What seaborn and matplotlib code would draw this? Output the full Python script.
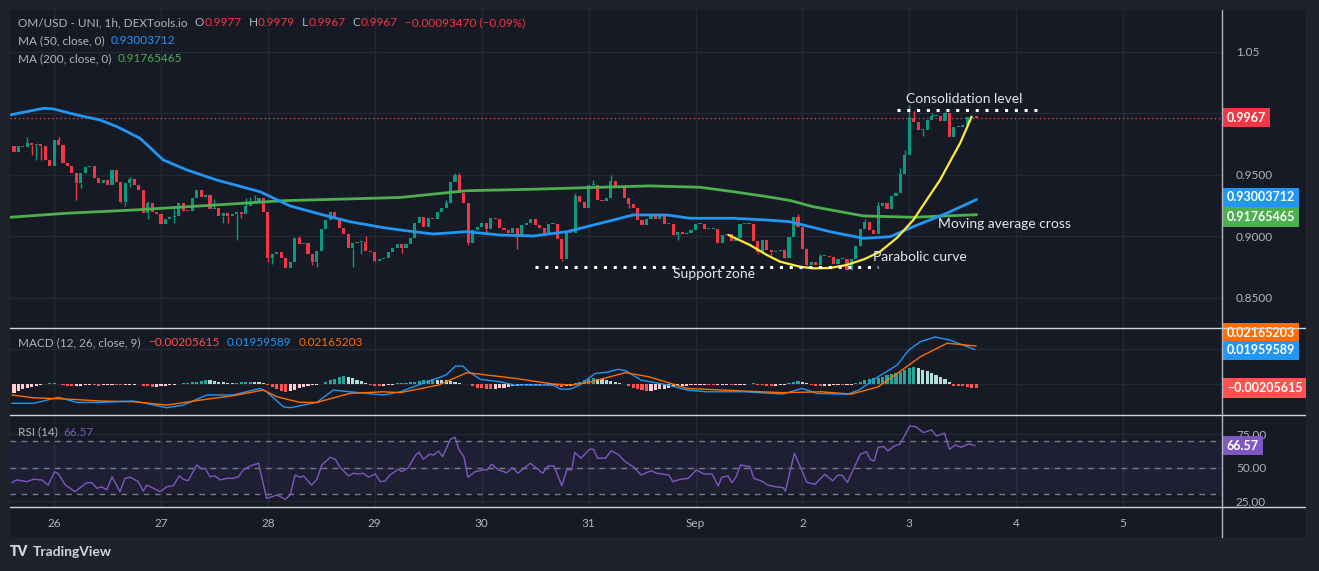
import matplotlib
matplotlib.use("Agg")
import matplotlib.pyplot as plt
import seaborn as sns
import numpy as np
from matplotlib.patches import Rectangle
from matplotlib.lines import Line2D

# ---- DATA ----
# hourly candles, first one = Aug 25 15:00; x axis is hours from Aug 26 00:00
start_hour = -9
first_open = 0.9736
closes = [
    0.9687, 0.9736, 0.9730, 0.9760, 0.9740, 0.9755, 0.9735, 0.9622, 0.9570, 0.9785,
    0.9744, 0.9598, 0.9570, 0.9516, 0.9435, 0.9520, 0.9565, 0.9570, 0.9476, 0.9435,
    0.9460, 0.9420, 0.9540, 0.9440, 0.9280, 0.9437, 0.9470, 0.9420, 0.9380, 0.9190,
    0.9275, 0.9200, 0.9185, 0.9100, 0.9140, 0.9160, 0.9170, 0.9270, 0.9210, 0.9205,
    0.9310, 0.9380, 0.9320, 0.9340, 0.9220, 0.9235, 0.9170, 0.9190, 0.9165, 0.9185,
    0.9200, 0.9185, 0.9250, 0.9280, 0.9290, 0.9310, 0.9200, 0.8825, 0.8855, 0.8870,
    0.8825, 0.8745, 0.8790, 0.8985, 0.8940, 0.8950, 0.8860, 0.8790, 0.8880, 0.9060,
    0.9130, 0.9200, 0.9150, 0.9070, 0.9020, 0.8910, 0.8950, 0.8955, 0.8955, 0.8880,
    0.8875, 0.8800, 0.8820, 0.8825, 0.8870, 0.8910, 0.8940, 0.8910, 0.8940, 0.8990,
    0.9110, 0.9160, 0.9080, 0.9150, 0.9140, 0.9200, 0.9230, 0.9270, 0.9445, 0.9500,
    0.9356, 0.9273, 0.8950, 0.9050, 0.9080, 0.9110, 0.9060, 0.9150, 0.9140, 0.9070,
    0.9050, 0.9030, 0.9070, 0.9010, 0.9090, 0.9110, 0.9140, 0.9090, 0.9070, 0.9020,
    0.9100, 0.9105, 0.8980, 0.8815, 0.9030, 0.9030, 0.9325, 0.9280, 0.9235, 0.9420,
    0.9420, 0.9300, 0.9290, 0.9310, 0.9450, 0.9400, 0.9390, 0.9313, 0.9260, 0.9235,
    0.9130, 0.9090, 0.9140, 0.9170, 0.9140, 0.9170, 0.9100, 0.9100, 0.9010, 0.9040,
    0.9020, 0.9030, 0.9050, 0.9100, 0.9100, 0.9060, 0.9060, 0.9060, 0.8950, 0.9010,
    0.9020, 0.8960, 0.8990, 0.9100, 0.9100, 0.9100, 0.8960, 0.8877, 0.8970, 0.8890,
    0.8870, 0.8880, 0.8890, 0.8825, 0.8995, 0.9160, 0.9080, 0.8900, 0.8770, 0.8790,
    0.8770, 0.8840, 0.8840, 0.8830, 0.8780, 0.8820, 0.8820, 0.8730, 0.8817, 0.8920,
    0.9060, 0.9120, 0.9050, 0.9020, 0.9250, 0.9270, 0.9220, 0.9325, 0.9350, 0.9510,
    0.9660, 0.9965, 0.9930, 0.9866, 0.9866, 0.9950, 0.9980, 0.9980, 0.9940, 1.0000,
    0.9810, 0.9890, 0.9890, 0.9910, 0.9970, 0.9977, 0.9967,
]
# visible wicks only (candle index -> high / low)
wick_hi = {3: 0.9811, 10: 0.9811, 26: 0.9486, 30: 0.9290, 36: 0.9230, 45: 0.9305,
           52: 0.9310, 53: 0.9320, 54: 0.9340, 64: 0.9004, 79: 0.9000, 97: 0.9300,
           99: 0.9519, 100: 0.9519, 126: 0.9351, 130: 0.9460, 134: 0.9500, 145: 0.9180,
           176: 0.9180, 181: 0.8860, 191: 0.9140, 194: 0.9280, 199: 0.9560, 200: 0.9700,
           201: 1.0069, 202: 1.0023, 206: 1.0000, 209: 1.0010}
wick_lo = {4: 0.9660, 5: 0.9620, 6: 0.9620, 14: 0.9297, 15: 0.9397, 24: 0.9275,
           25: 0.9248, 26: 0.9405, 30: 0.9140, 36: 0.9109, 47: 0.9107, 48: 0.9110,
           50: 0.8972, 51: 0.9150, 57: 0.8795, 58: 0.8776, 67: 0.8770, 68: 0.8754,
           75: 0.8909, 76: 0.8754, 78: 0.8858, 81: 0.8790, 87: 0.8868, 102: 0.8930,
           106: 0.9030, 113: 0.8898, 123: 0.8800, 138: 0.9230, 149: 0.8970, 167: 0.8860,
           170: 0.8850, 178: 0.8763, 187: 0.8732, 204: 0.9820}

ma50_t = [-9.9, -2.4, -0.2, 5.1, 10.3, 14.1, 19.3, 24.5, 29.8, 36.5, 46.2, 53.0, 60.4,
          66.4, 73.9, 77.7, 85.1, 92.6, 100.1, 107.6, 115.1, 122.6, 130.0, 137.5, 142.8,
          152.5, 160.0, 165.2, 174.2, 181.7, 187.7, 192.9, 200.4, 207.1]
ma50_v = [0.9988, 1.0042, 1.0037, 0.9988, 0.9947, 0.9893, 0.9798, 0.9622, 0.9541, 0.9459,
          0.9364, 0.9248, 0.9175, 0.9120, 0.9072, 0.9053, 0.9020, 0.9039, 0.9012, 0.9004,
          0.9039, 0.9107, 0.9175, 0.9175, 0.9148, 0.9148, 0.9134, 0.9120, 0.9039, 0.8985,
          0.8998, 0.9080, 0.9189, 0.9300]
ma200_t = [-9.9, 2.9, 17.8, 32.8, 51.5, 62.7, 77.7, 92.6, 107.6, 122.6, 133.8, 145.0,
           152.5, 160.0, 165.2, 170.4, 181.7, 192.9, 207.1]
ma200_v = [0.9156, 0.9189, 0.9215, 0.9248, 0.9291, 0.9302, 0.9317, 0.9372, 0.9384, 0.9400,
           0.9411, 0.9400, 0.9364, 0.9324, 0.9293, 0.9242, 0.9167, 0.9156, 0.9177]

curve_t = [151.4, 156.2, 160.0, 163.0, 167.5, 170.4, 174.2, 177.9, 182.0, 185.4, 189.2,
           192.9, 195.9, 198.9, 201.1, 203.4, 204.9, 206.0]
curve_v = [0.9012, 0.8931, 0.8850, 0.8795, 0.8754, 0.8741, 0.8744, 0.8768, 0.8817, 0.8876,
           0.8988, 0.9134, 0.9297, 0.9459, 0.9606, 0.9758, 0.9882, 0.9974]

last_price = 0.9967
ma50_last, ma200_last = 0.93003712, 0.91765465

macd_t = [-9.5, -4.6, 1.0, 5.1, 10.3, 17.8, 20.0, 25.3, 29.0, 34.3, 40.2, 46.2, 47.7, 51.5,
          53.0, 59.0, 62.7, 66.4, 73.9, 77.7, 82.8, 88.0, 90.1, 91.8, 93.1, 95.7, 100.0,
          103.4, 112.0, 113.7, 115.9, 118.0, 121.5, 124.1, 126.6, 128.3, 131.8, 137.8,
          142.1, 146.4, 155.0, 163.6, 167.9, 171.3, 178.2, 180.7, 185.0, 189.3, 191.9,
          194.5, 197.8, 201.1, 206.7]
macd_v = [-0.0107, -0.0107, -0.0073, -0.0102, -0.0102, -0.0094, -0.0104, -0.0132, -0.0117,
          -0.0060, -0.0060, -0.0023, -0.0042, -0.0127, -0.0132, -0.0102, -0.0032, -0.0042,
          -0.0060, -0.0042, 0.0006, 0.0053, 0.0103, 0.0103, 0.0071, 0.0028, 0.0015, -0.0004,
          -0.0004, -0.0027, -0.0027, -0.0004, 0.0062, 0.0068, 0.0085, 0.0077, 0.0024, -0.0004,
          -0.0032, -0.0042, -0.0042, -0.0055, -0.0023, -0.0051, -0.0056, -0.0032, 0.0043,
          0.0109, 0.0194, 0.0241, 0.0267, 0.0250, 0.0196]
signal_t = [-9.5, -4.6, 2.9, 10.3, 17.8, 25.3, 32.8, 40.2, 47.0, 50.0, 55.2, 59.0, 66.4,
            73.9, 77.7, 86.3, 92.7, 103.4, 112.0, 116.3, 120.6, 128.3, 133.5, 142.1, 155.0,
            163.6, 172.2, 179.0, 185.0, 189.3, 194.5, 200.5, 207.0]
signal_v = [-0.0060, -0.0076, -0.0083, -0.0094, -0.0098, -0.0117, -0.0089, -0.0064, -0.0032,
            -0.0070, -0.0102, -0.0102, -0.0051, -0.0042, -0.0047, -0.0004, 0.0066, 0.0034,
            0.0002, -0.0004, 0.0015, 0.0066, 0.0043, -0.0023, -0.0038, -0.0047, -0.0042,
            -0.0055, -0.0014, 0.0062, 0.0156, 0.0232, 0.0216]
# histogram, one bar per candle, in thousandths
hist_e3 = [
    -4.7, -3.8, -2.8, -2.0, -1.4, -0.9, -0.5, 0.3, 0.5, 0.6,
    0.3, -0.6, -0.9, -1.1, -1.0, -0.8, -0.6, -0.5, -0.6, -0.7,
    -0.5, -0.4, -0.3, -0.5, -0.6, -0.4, -0.3, -0.2, 0.2, -0.8,
    -1.2, -1.5, -1.4, -1.1, -0.9, -0.6, -0.3, 0.3, 0.5, 0.8,
    1.2, 1.6, 2.0, 2.4, 2.2, 1.9, 1.5, 1.1, 0.8, 0.6,
    0.9, 1.1, 1.3, 1.5, 1.3, 1.1, 0.8, -0.4, -1.5, -2.8,
    -4.0, -4.5, -3.8, -3.0, -2.2, -1.6, -1.0, -0.6, -0.3, 0.4,
    1.2, 2.2, 3.2, 4.0, 4.6, 4.2, 3.4, 2.6, 1.8, 0.9,
    -0.5, -0.8, -0.9, -0.8, -0.6, -0.4, 0.5, 0.7, 0.9, 1.3,
    1.6, 2.0, 2.3, 2.6, 2.8, 2.7, 2.5, 2.2, 1.9, 1.4,
    0.8, 0.3, 0.1, -1.2, -1.8, -2.3, -2.6, -2.8, -2.5, -2.2,
    -1.8, -1.4, -1.0, -0.7, -0.6, -0.5, -0.5, -0.4, -0.3, -0.6,
    -0.7, -0.6, -1.0, -1.4, -1.2, -0.8, 0.8, 1.6, 2.4, 3.0,
    3.4, 3.2, 2.8, 2.4, 1.9, 1.4, 0.9, 0.4, -1.2, -2.0,
    -2.8, -3.4, -3.8, -3.6, -3.2, -2.8, -2.4, -2.0, -1.6, -1.2,
    -0.9, -0.7, -0.6, -0.5, -0.5, -0.4, -0.5, -0.6, -0.5, -0.4,
    -0.4, -0.5, -0.3, -0.2, -0.1, 0.4, 0.5, -0.3, -0.6, -0.8,
    -0.9, -0.7, -0.5, -0.3, 0.8, 1.4, 1.8, 1.4, 0.9, -0.4,
    -0.7, -0.9, -0.8, -0.7, -0.6, -0.5, -0.6, -0.4, -0.2, 0.9,
    1.5, 2.2, 2.8, 3.3, 3.8, 4.3, 5.0, 5.6, 6.3, 7.2,
    8.2, 9.3, 9.6, 9.0, 8.2, 7.4, 6.5, 5.5, 4.2, 2.8,
    1.2, -0.9, -1.0, -1.1, -1.5, -1.9, -2.1,
]
macd_last, signal_last, hist_last = 0.01959589, 0.02165203, -0.00205615

rsi_t = [-9.5, -8.4, -6.1, -4.6, -2.8, -1.3, 0.1, 1.0, 2.5, 4.7, 7.3, 8.5, 9.6, 10.7, 11.8,
         13.0, 14.8, 15.9, 17.1, 18.9, 20.0, 20.8, 22.3, 23.8, 25.3, 26.8, 28.1, 29.0, 30.1,
         32.0, 33.2, 33.9, 35.0, 36.1, 37.3, 38.8, 40.2, 41.4, 42.5, 44.0, 45.9, 47.7, 48.9,
         50.0, 51.9, 53.0, 54.1, 55.2, 56.0, 57.8, 59.0, 60.1, 62.0, 63.1, 64.2, 66.1, 67.2,
         68.3, 69.4, 70.6, 72.1, 73.2, 74.3, 75.4, 77.3, 78.0, 79.4, 81.2, 81.9, 82.9, 84.3,
         85.2, 86.3, 87.2, 89.0, 90.0, 90.9, 92.0, 92.9, 94.5, 96.4, 97.2, 98.2, 99.8, 101.6,
         102.9, 104.1, 106.9, 109.7, 110.9, 112.2, 114.0, 115.1, 116.2, 116.9, 118.3, 120.2,
         121.1, 122.0, 123.8, 125.1, 126.8, 128.2, 130.0, 131.8, 134.0, 135.3, 138.0, 138.9,
         140.6, 142.4, 144.2, 145.9, 147.7, 149.1, 149.9, 151.3, 152.2, 153.1, 154.1, 156.2,
         157.1, 158.8, 160.2, 161.9, 163.7, 164.2, 166.2, 169.0, 170.8, 173.0, 174.8, 176.0,
         177.0, 178.1, 181.0, 182.4, 183.2, 184.1, 185.0, 186.3, 187.2, 188.6, 189.9, 192.1,
         193.4, 195.2, 197.0, 198.1, 199.9, 201.0, 202.3, 203.6, 205.4, 206.8]
rsi_v = [38.7, 40.8, 39.5, 41.3, 40.8, 37.0, 47.0, 45.3, 37.0, 32.0, 38.7, 38.7, 34.5, 35.7,
         33.3, 43.2, 32.0, 42.0, 42.8, 39.5, 32.5, 37.0, 34.5, 32.0, 35.7, 36.5, 43.8, 41.3,
         40.2, 52.0, 49.0, 49.5, 43.2, 43.8, 40.8, 42.0, 42.0, 43.2, 48.3, 51.3, 53.3, 27.0,
         28.2, 29.5, 26.3, 29.5, 44.5, 42.8, 43.8, 37.0, 41.3, 52.0, 57.8, 56.3, 50.3, 43.8,
         45.8, 45.3, 45.8, 42.8, 45.3, 39.5, 40.0, 44.5, 48.8, 47.0, 49.5, 59.5, 61.6, 56.3,
         60.1, 59.5, 62.5, 58.3, 71.3, 72.8, 63.3, 58.3, 42.8, 47.0, 48.3, 48.3, 52.6, 48.3,
         46.2, 50.0, 45.8, 53.3, 45.8, 51.3, 51.3, 36.5, 48.3, 48.3, 61.3, 57.1, 63.8, 63.8,
         57.1, 57.1, 62.8, 59.5, 54.5, 50.8, 44.5, 47.7, 45.8, 44.5, 39.5, 41.3, 42.0, 48.3,
         45.3, 45.3, 36.3, 42.8, 43.8, 38.7, 43.2, 52.0, 50.8, 42.0, 40.0, 37.0, 35.7, 35.0,
         32.5, 60.8, 39.0, 37.5, 45.0, 40.2, 44.5, 44.0, 39.0, 60.1, 62.0, 56.3, 55.0, 65.3,
         65.8, 62.5, 66.3, 67.6, 81.3, 80.8, 76.3, 78.3, 73.8, 75.8, 63.8, 67.0, 65.3, 67.8,
         66.57]

day_ticks = [0, 24, 48, 72, 96, 120, 144, 168, 192, 216, 240]
day_labels = ["26", "27", "28", "29", "30", "31", "Sep", "2", "3", "4", "5"]

# ---- STYLE ----
BG = "#161A25"
OUTER = "#1F222B"
GRID = "#242833"
TXT = "#B2B5BE"
UP, DOWN = "#089981", "#F23645"

sns.set_theme(style="dark")
plt.rcParams["font.family"] = ["Lato", "DejaVu Sans"]

W, H = 1319, 571
fig = plt.figure(figsize=(W / 100, H / 100), dpi=100, facecolor=OUTER)


def fx(x):
    return x / W


def fy(y):
    return 1 - y / H


fig.patches.append(Rectangle((fx(10), fy(537)), 1295 / W, 527 / H,
                             transform=fig.transFigure, fc=BG, ec="none", zorder=-10))

ax_p = fig.add_axes([fx(10), fy(328), 1212 / W, 318 / H])
ax_m = fig.add_axes([fx(10), fy(415), 1212 / W, 87 / H], sharex=ax_p)
ax_r = fig.add_axes([fx(10), fy(507), 1212 / W, 92 / H], sharex=ax_p)

for ax in (ax_p, ax_m, ax_r):
    ax.set_facecolor(BG)
    for s in ax.spines.values():
        s.set_visible(False)
    ax.yaxis.tick_right()
    ax.tick_params(length=0, colors=TXT, labelsize=8.5, pad=10)
    ax.grid(True, color=GRID, lw=1)
    ax.set_axisbelow(True)
ax_p.set_xlim(-9.9, 262.2)
ax_p.set_xticks(day_ticks)
ax_r.set_xticklabels(day_labels)
ax_r.tick_params(axis="x", pad=8)
plt.setp(ax_p.get_xticklabels(), visible=False)
plt.setp(ax_m.get_xticklabels(), visible=False)

# ---- PRICE PANEL ----
c = np.array(closes)
o = np.r_[first_open, c[:-1]]
t = np.arange(len(c)) + start_hour
up = c >= o
cols = np.where(up, UP, DOWN)
body_lo = np.minimum(o, c)
body_h = np.maximum(np.abs(c - o), 0.0008)
ax_p.bar(t, body_h, bottom=body_lo, width=0.7, color=cols, lw=0, zorder=3)
for i, hi in wick_hi.items():
    ax_p.vlines(t[i], max(o[i], c[i]), hi, color=cols[i], lw=1, zorder=3)
for i, lo in wick_lo.items():
    ax_p.vlines(t[i], lo, min(o[i], c[i]), color=cols[i], lw=1, zorder=3)

sns.lineplot(x=ma200_t, y=ma200_v, ax=ax_p, color="#4CAF50", lw=2, zorder=4)
sns.lineplot(x=ma50_t, y=ma50_v, ax=ax_p, color="#2196F3", lw=2, zorder=4)
sns.lineplot(x=curve_t, y=curve_v, ax=ax_p, color="#FFEB3B", lw=1.6, zorder=5)
ax_p.axhline(last_price, color=DOWN, lw=1, ls=(0, (1, 2)), zorder=2)

dots = dict(color="white", lw=2.2, ls=(0, (1, 2.2)), zorder=6)
ax_p.plot([108, 185], [0.8752, 0.8752], **dots)
ax_p.plot([189.2, 221.8], [1.0028, 1.0028], **dots)

note = dict(color="#E6E8EE", fontsize=10, ha="left", va="center", zorder=7)
ax_p.text(191.2, 1.0118, "Consolidation level", **note)
ax_p.text(198.4, 0.9102, "Moving average cross", **note)
ax_p.text(183.8, 0.8833, "Parabolic curve", **note)
ax_p.text(138.9, 0.8695, "Support zone", **note)

ax_p.set_ylim(0.8256, 1.0841)
ax_p.set_yticks([0.85, 0.90, 0.95, 1.00, 1.05])
ax_p.set_yticklabels(["0.8500", "0.9000", "0.9500", "", "1.05"])

# ---- MACD PANEL ----
h = np.array(hist_e3) * 1e-3
hp = np.r_[h[0], h[:-1]]
hcol = np.where(h >= 0, np.where(h >= hp, "#26A69A", "#B2DFDB"),
                np.where(h < hp, "#FF5252", "#FFCDD2"))
ax_m.bar(t, h, width=0.7, color=hcol, lw=0, zorder=3)
sns.lineplot(x=macd_t, y=macd_v, ax=ax_m, color="#2196F3", lw=1, zorder=4)
sns.lineplot(x=signal_t, y=signal_v, ax=ax_m, color="#FF6D00", lw=1, zorder=4)
ax_m.set_ylim(-0.0173, 0.0318)
ax_m.set_yticks([0.0, 0.02])
ax_m.set_yticklabels(["", ""])

# ---- RSI PANEL ----
ax_r.axhspan(30, 70, color="#7E57C2", alpha=0.09, lw=0)
for lvl in (30, 50, 70):
    ax_r.axhline(lvl, color="#787B86", lw=1, ls=(0, (4, 4)), zorder=2)
sns.lineplot(x=rsi_t, y=rsi_v, ax=ax_r, color="#7E57C2", lw=1, zorder=4)
ax_r.set_ylim(20.5, 89.5)
ax_r.set_yticks([25, 50, 75])
ax_r.set_yticklabels(["25.00", "50.00", "75.00"])


# ---- right-hand value tags ----
def tag(ax, y, s, color, dy=0):
    ax.annotate(s, xy=(1, y), xycoords=ax.get_yaxis_transform(), xytext=(3.5, dy),
                textcoords="offset points", ha="left", va="center", color="white",
                fontsize=9, fontweight="bold", annotation_clip=False, zorder=10,
                bbox=dict(boxstyle="square,pad=0.3", fc=color, ec="none"))


tag(ax_p, last_price, f"{last_price:.4f}", DOWN)
tag(ax_p, ma50_last, f"{ma50_last:.8f}", "#2196F3", dy=1.5)
tag(ax_p, ma200_last, f"{ma200_last:.8f}", "#4CAF50", dy=-1.5)
tag(ax_m, signal_last, f"{signal_last:.8f}", "#FF6D00", dy=9.5)
tag(ax_m, macd_last, f"{macd_last:.8f}", "#2196F3", dy=-0.5)
tag(ax_m, hist_last, f"\u2212{abs(hist_last):.8f}", "#FF5252")
tag(ax_r, rsi_v[-1], f"{rsi_v[-1]:.2f}", "#7E57C2")

# ---- panel separators ----
for y in (328, 415, 507):
    fig.add_artist(Line2D([fx(10), fx(1305)], [fy(y), fy(y)], color="#D1D4DC", lw=1))
fig.add_artist(Line2D([fx(1222), fx(1222)], [fy(10), fy(537)], color="#B2B5BE", lw=1))

# ---- legend texts, laid out one after another ----
renderer = fig.canvas.get_renderer()


def row(y, parts, x0=18, size=8.5):
    x = x0
    for gap, s, col in parts:
        x += gap
        tx = fig.text(fx(x), fy(y), s, color=col, fontsize=size, ha="left", va="center")
        x = tx.get_window_extent(renderer).x1


RED = "#F23645"
row(23, [(0, "OM/USD - UNI, 1h, DEXTools.io", TXT), (7, "O", TXT), (0.5, "0.9977", RED),
         (7, "H", TXT), (0.5, "0.9979", RED), (7, "L", TXT), (0.5, "0.9967", RED),
         (7, "C", TXT), (0.5, "0.9967", RED), (7, "\u22120.00093470 (\u22120.09%)", RED)])
row(41, [(0, "MA (50, close, 0)", TXT), (6, f"{ma50_last:.8f}", "#2196F3")])
row(59, [(0, "MA (200, close, 0)", TXT), (6, f"{ma200_last:.8f}", "#4CAF50")])
row(343, [(0, "MACD (12, 26, close, 9)", TXT), (8, f"\u2212{abs(hist_last):.8f}", "#FF5252"),
          (7, f"{macd_last:.8f}", "#2196F3"), (7, f"{signal_last:.8f}", "#FF6D00")])
row(432, [(0, "RSI (14)", TXT), (6, f"{rsi_v[-1]:.2f}", "#7E57C2")])

fig.text(fx(10), fy(552), "TV", color="#D1D4DC", fontsize=10, fontweight="heavy",
         ha="left", va="center")
fig.text(fx(33), fy(552), "TradingView", color="#D1D4DC", fontsize=10, fontweight="bold",
         ha="left", va="center")

fig.savefig("out.png", dpi=100, facecolor=OUTER)
